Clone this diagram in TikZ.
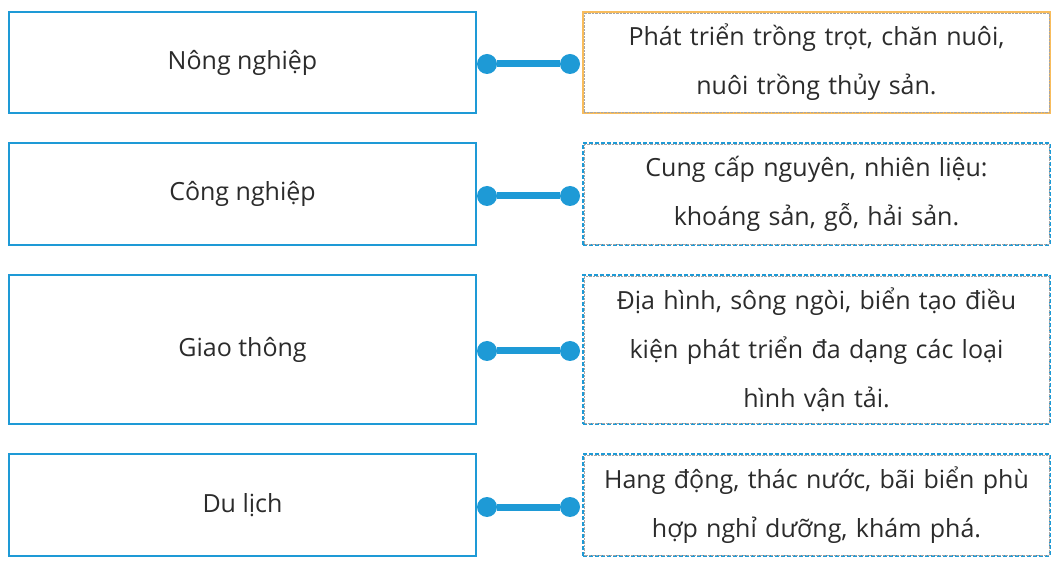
\documentclass[tikz,border=0pt]{standalone}
\usepackage{fontspec}
\setmainfont{Open Sans}
\usetikzlibrary{positioning}
\definecolor{lineblue}{HTML}{1E9AD6}
\definecolor{boxorange}{HTML}{F8BC5C}
\definecolor{textgray}{HTML}{2B2B2B}
\begin{document}
\begin{tikzpicture}[x=1pt,y=1pt]
	\tikzset{leftbox/.style={draw=lineblue, line width=1.2pt, minimum width=467pt, text=textgray, font=\fontsize{25}{30}\selectfont},
		rightbox/.style={draw=lineblue, line width=1.8pt, dash pattern=on 4pt off 2pt, minimum width=467pt, text=textgray, align=center, text width=460pt, font=\fontsize{25}{49}\selectfont},
		innerline/.style={draw=gray!70, densely dotted, thin},
		link/.style={lineblue, line width=7pt},
		dot/.style={circle, fill=lineblue, inner sep=0pt, minimum size=20pt}}

	\useasboundingbox (0,0) rectangle (1055,568);

	% left column
	\node[leftbox, minimum height=101pt] (nong) at (242.5,505.5) {Nông nghiệp};
	\node[leftbox, minimum height=102pt] (cong) at (242.5,374) {Công nghiệp};
	\node[leftbox, minimum height=149pt] (giao) at (242.5,218.5) {Giao thông};
	\node[leftbox, minimum height=102pt] (du) at (242.5,63) {Du lịch};

	% right column
	\node[rightbox, draw=boxorange, solid, minimum height=101pt] (r1) at (816.5,505.5) {Phát triển trồng trọt, chăn nuôi,\\nuôi trồng thủy sản.};
	\node[rightbox, minimum height=102pt] (r2) at (816.5,374) {Cung cấp nguyên, nhiên liệu:\\khoáng sản, gỗ, hải sản.};
	\node[rightbox, minimum height=149pt] (r3) at (816.5,218.5) {Địa hình, sông ngòi, biển tạo điều\\kiện phát triển đa dạng các loại\\hình vận tải.};
	\node[rightbox, minimum height=102pt] (r4) at (816.5,63) {Hang động, thác nước, bãi biển phù\\hợp nghỉ dưỡng, khám phá.};

	\foreach \r in {r1,r2,r3,r4}
	{
		\draw[innerline] ([shift={(2,2)}]\r.south west) rectangle ([shift={(-2,-2)}]\r.north east);
	}

	% connectors
	\foreach \l/\r/\y in {nong/r1/504, cong/r2/372, giao/r3/217, du/r4/61}
	{
		\node[dot] (\l-a) at (487,\y) {};
		\node[dot] (\l-b) at (570,\y) {};
		\draw[link] (\l-a) -- (\l-b);
	}
\end{tikzpicture}
\end{document}
